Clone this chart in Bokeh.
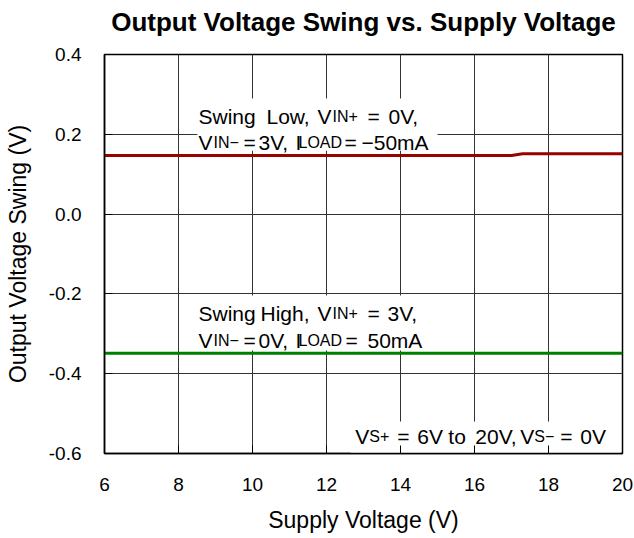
from bokeh.plotting import figure
from bokeh.models import Label, BoxAnnotation, FixedTicker, LinearAxis
from bokeh.embed import file_html
from bokeh.resources import INLINE

# ---- data ----
supply_v = [6, 8, 10, 12, 14, 16, 17.0, 17.3, 18, 20]
swing_low = [0.147, 0.147, 0.147, 0.147, 0.147, 0.147, 0.147, 0.151, 0.151, 0.151]
swing_high = [-0.349, -0.349, -0.349, -0.349, -0.349, -0.349, -0.349, -0.349, -0.349, -0.349]

x_ticks = [6, 8, 10, 12, 14, 16, 18, 20]
y_ticks = [-0.6, -0.4, -0.2, 0.0, 0.2, 0.4]
y_tick_labels = ["-0.6", "-0.4", "-0.2", "0.0", "0.2", "0.4"]

title_text = "Output Voltage Swing vs. Supply Voltage"
x_label = "Supply Voltage (V)"
y_label = "Output Voltage Swing (V)"

FONT = "Liberation Sans"

p = figure(frame_width=518, frame_height=399,
           x_range=(6, 20), y_range=(-0.6, 0.4),
           min_border_left=104, min_border_right=12,
           min_border_top=54, min_border_bottom=85,
           output_backend="svg", toolbar_location=None)

p.background_fill_color = "white"
p.border_fill_color = "white"
p.outline_line_color = "black"
p.outline_line_width = 1.5
p.outline_line_alpha = 1

p.xaxis.ticker = FixedTicker(ticks=x_ticks)
p.yaxis.ticker = FixedTicker(ticks=y_ticks)
p.yaxis.major_label_overrides = {t: l for t, l in zip(y_ticks, y_tick_labels)}

for ax in (p.xaxis, p.yaxis):
    ax.axis_line_color = "black"
    ax.axis_line_width = 1.5
    ax.major_tick_in = 8
    ax.major_tick_out = 0
    ax.major_tick_line_color = "black"
    ax.minor_tick_line_color = None
    ax.major_label_text_font = FONT
    ax.major_label_text_font_size = "19px"
    ax.major_label_text_color = "black"
    ax.axis_label_text_font = FONT
    ax.axis_label_text_font_size = "23px"
    ax.axis_label_text_font_style = "normal"
    ax.axis_label_text_color = "black"

p.xaxis.axis_label = x_label
p.yaxis.axis_label = y_label
p.xaxis.major_label_standoff = 24
p.yaxis.major_label_standoff = 23
p.xaxis.axis_label_standoff = 13
p.yaxis.axis_label_standoff = 15

# title drawn as the label of a bare axis above the plot area
title_axis = LinearAxis(ticker=FixedTicker(ticks=[]), axis_label=title_text,
                        axis_line_color=None, major_tick_line_color=None,
                        minor_tick_line_color=None, major_label_text_font_size="0px",
                        major_tick_in=0, major_tick_out=0, major_label_standoff=0,
                        axis_label_standoff=18,
                        axis_label_text_font=FONT, axis_label_text_font_size="26px",
                        axis_label_text_font_style="bold", axis_label_text_color="black")
p.add_layout(title_axis, "above")

p.grid.grid_line_color = "#333333"
p.grid.grid_line_width = 1

# white backgrounds behind the annotation texts
for (l, r, b, t) in [(8.51, 15.0, 0.159, 0.290),
                     (8.51, 14.8, -0.342, -0.204),
                     (12.65, 19.95, -0.6, -0.52)]:
    p.add_layout(BoxAnnotation(left=l, right=r, bottom=b, top=t,
                               fill_color="white", fill_alpha=1,
                               line_color=None, line_alpha=0, level="glyph"))

p.line(supply_v, swing_low, line_color="#990000", line_width=3)
p.line(supply_v, swing_high, line_color="#008000", line_width=3)

MAIN = "21px"
SUB = "16px"


def put(x, y, pieces):
    for txt, off, sub in pieces:
        p.add_layout(Label(x=x, y=y, x_offset=off, text=txt,
                           text_font=FONT, text_font_size=SUB if sub else MAIN,
                           text_color="black", text_baseline="alphabetic",
                           text_align="left"))


put(8.54, 0.2446, [("Swing", 0, False), ("Low,", 68, False), ("V", 119, False),
                   ("IN+", 134, True), ("=", 169, False), ("0V,", 190, False)])
put(8.54, 0.1795, [("V", 0, False), ("IN\u2212", 15, True), ("=", 45, False),
                   ("3V,", 60, False), ("I", 97, False), ("LOAD", 100, True),
                   ("=", 146, False), ("\u221250mA", 163, False)])
put(8.54, -0.249, [("Swing", 0, False), ("High,", 62, False), ("V", 119, False),
                   ("IN+", 134, True), ("=", 169, False), ("3V,", 189, False)])
put(8.54, -0.317, [("V", 0, False), ("IN\u2212", 15, True), ("=", 45, False),
                   ("0V,", 60, False), ("I", 97, False), ("LOAD", 100, True),
                   ("=", 147, False), ("50mA", 169, False)])
put(12.78, -0.557, [("V", 0, False), ("S+", 14, True), ("=", 42, False),
                    ("6V", 62, False), ("to", 93, False), ("20V,", 120, False),
                    ("V", 165, False), ("S\u2212", 179, True), ("=", 205, False),
                    ("0V", 225, False)])

open("out.html", "w").write(file_html(p, INLINE))
